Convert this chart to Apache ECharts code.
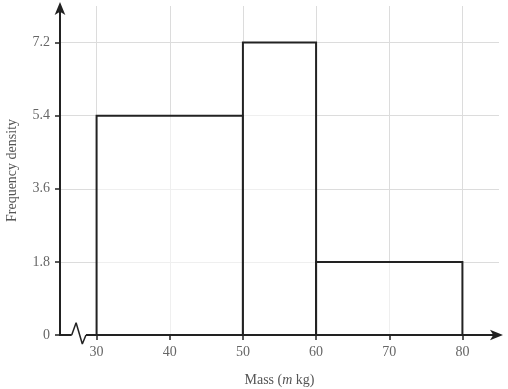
<!DOCTYPE html>
<html>
<head>
<meta charset="utf-8">
<script src="https://cdn.jsdelivr.net/npm/echarts@6/dist/echarts.min.js"></script>
<style>
  html, body { margin: 0; padding: 0; background: #fff; }
  #chart { width: 508px; height: 389px; }
</style>
</head>
<body>
<div id="chart"></div>
<script>
// histogram classes (mass in kg) and frequency densities
const binStarts = [30, 50, 60];
const binEnds = [50, 60, 80];
const densities = [5.4, 7.2, 1.8];

const xTickLabels = [30, 40, 50, 60, 70, 80];
const yTickLabels = [0, 1.8, 3.6, 5.4, 7.2];

// axis break zigzag near the origin
const breakPoints = [[26.6, 0], [27.2, 0.3], [28.05, -0.22], [28.55, 0]];

const serif = '"Liberation Serif", "DejaVu Serif", serif';

const chart = echarts.init(document.getElementById('chart'));

const option = {
  backgroundColor: '#fff',
  animation: false,
  grid: { left: 60, right: 9, top: 6, bottom: 54, containLabel: false, outerBoundsMode: 'none' },
  xAxis: {
    type: 'value',
    min: 25,
    max: 85,
    interval: 5,
    name: '{n|Mass (}{i|m}{n| kg)}',
    nameLocation: 'middle',
    nameGap: 38,
    nameTextStyle: {
      rich: {
        n: { fontFamily: serif, fontSize: 14, color: '#555' },
        i: { fontFamily: serif, fontSize: 14, color: '#555', fontStyle: 'italic' }
      }
    },
    axisLine: {
      show: true,
      symbol: ['none', 'arrow'],
      symbolSize: [8, 13],
      symbolOffset: [0, 4],
      lineStyle: { color: '#222', width: 2 }
    },
    axisTick: {
      show: true,
      length: 5,
      customValues: xTickLabels,
      lineStyle: { color: '#222', width: 1.5 }
    },
    axisLabel: {
      customValues: xTickLabels,
      fontFamily: serif,
      fontSize: 14,
      color: '#666',
      margin: 10
    },
    splitLine: { show: true, lineStyle: { color: '#dcdcdc', width: 1 } }
  },
  yAxis: {
    type: 'value',
    min: 0,
    max: 8.1,
    interval: 0.9,
    name: 'Frequency density',
    nameLocation: 'middle',
    nameGap: 41,
    nameTextStyle: { fontFamily: serif, fontSize: 14, color: '#555' },
    axisLine: {
      show: true,
      symbol: ['none', 'arrow'],
      symbolSize: [8, 13],
      symbolOffset: [0, 4],
      lineStyle: { color: '#222', width: 2 }
    },
    axisTick: {
      show: true,
      length: 5,
      customValues: yTickLabels,
      lineStyle: { color: '#222', width: 1.5 }
    },
    axisLabel: {
      customValues: yTickLabels,
      fontFamily: serif,
      fontSize: 14,
      color: '#666',
      margin: 10,
      formatter: v => (v === 0 ? '0' : v.toFixed(1))
    },
    splitLine: { show: true, lineStyle: { color: '#dcdcdc', width: 1 } }
  },
  series: [
    {
      type: 'custom',
      data: binStarts.map((s, i) => [s, binEnds[i], densities[i]]),
      encode: { x: [0, 1], y: 2 },
      renderItem: (params, api) => {
        const p0 = api.coord([api.value(0), 0]);
        const p1 = api.coord([api.value(1), api.value(2)]);
        return {
          type: 'rect',
          shape: { x: p0[0], y: p1[1], width: p1[0] - p0[0], height: p0[1] - p1[1] },
          style: { fill: 'rgba(255,255,255,0.55)', stroke: '#222', lineWidth: 2 }
        };
      }
    },
    {
      type: 'line',
      data: [breakPoints[0], breakPoints[breakPoints.length - 1]],
      symbol: 'none',
      clip: false,
      lineStyle: { color: '#fff', width: 5 },
      z: 3
    },
    {
      type: 'line',
      data: breakPoints,
      symbol: 'none',
      clip: false,
      lineStyle: { color: '#222', width: 1.5 },
      z: 4
    }
  ]
};

chart.setOption(option);
</script>
</body>
</html>
